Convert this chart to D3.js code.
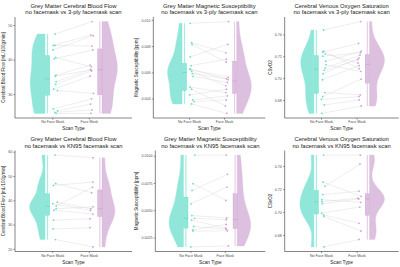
<!DOCTYPE html>
<html lang="en">
<head>
<meta charset="utf-8">
<style>
body { margin: 0; background: #fff; }
svg { display: block; font-family: "Liberation Sans", Arial, sans-serif; }
</style>
</head>
<body>
<script src="https://d3js.org/d3.v7.min.js"></script>
<script>
// paired subjects: index i in the "noMask" array goes with index i in the "mask" array
const groups = ["No Face Mask", "Face Mask"];

// row 1: no facemask vs 3-ply facemask
const cbf3NoMask = [47.4, 44.1, 44.1, 42.8, 40.6, 40.2, 35.5, 35.2, 33.6, 32.8, 31.4, 31.0, 25.7, 25.1, 24.7, 24.4];
const cbf3Mask   = [51.0, 47.1, 43.9, 46.9, 37.9, 42.8, 38.4, 37.0, 37.1, 36.7, 35.2, 30.2, 28.6, 27.1, 25.4, 24.4];
const chi3NoMask = [0.00974, 0.00826, 0.00813, 0.00718, 0.00651, 0.00626, 0.00621, 0.00608, 0.00590, 0.00569, 0.00487, 0.00472, 0.00428, 0.00390, 0.00377, 0.00359];
const chi3Mask   = [0.00987, 0.00749, 0.00679, 0.00813, 0.00700, 0.00544, 0.00562, 0.00497, 0.00551, 0.00523, 0.00446, 0.00344, 0.00472, 0.00420, 0.00390, 0.00287];
const svo3NoMask = [0.7440, 0.7246, 0.7237, 0.7222, 0.7200, 0.7154, 0.7123, 0.7092, 0.7071, 0.7040, 0.6985, 0.6868, 0.6831, 0.6806, 0.6754, 0.6677];
const svo3Mask   = [0.7517, 0.7086, 0.7317, 0.7138, 0.7231, 0.7246, 0.7062, 0.7210, 0.7169, 0.7185, 0.7114, 0.6846, 0.6990, 0.6831, 0.6800, 0.6745];

// row 2: no facemask vs KN95 facemask
const cbfKnNoMask = [58.6, 46.9, 46.1, 39.2, 38.6, 37.6, 36.5, 35.9, 31.8, 28.2, 23.8];
const cbfKnMask   = [57.5, 43.1, 47.5, 36.5, 35.8, 45.4, 37.3, 34.3, 32.4, 28.7, 20.8];
const chiKnNoMask = [0.01006, 0.00744, 0.00682, 0.00559, 0.00451, 0.00426, 0.00410, 0.00352, 0.00321, 0.00309, 0.00164];
const chiKnMask   = [0.01006, 0.00590, 0.00830, 0.00713, 0.00430, 0.00414, 0.00336, 0.00327, 0.00370, 0.00312, 0.00173];
const svoKnNoMask = [0.7494, 0.7259, 0.7224, 0.7151, 0.7107, 0.7090, 0.7072, 0.6990, 0.6975, 0.6961, 0.6697];
const svoKnMask   = [0.7494, 0.7136, 0.7415, 0.7180, 0.7084, 0.7120, 0.7113, 0.7043, 0.6902, 0.6835, 0.6762];

// y tick labels
const cbf3Ticks  = ["30", "40", "50"];
const chi3Ticks  = ["0.004", "0.006", "0.008", "0.010"];
const svoTicks   = ["0.68", "0.70", "0.72", "0.74"];
const cbfKnTicks = ["20", "30", "40", "50", "60"];
const chiKnTicks = ["0.0025", "0.0050", "0.0075", "0.0100"];

const titles = ["Grey Matter Cerebral Blood Flow", "Grey Matter Magnetic Susceptibility", "Cerebral Venous Oxygen Saturation"];
const subtitles = ["no facemask vs 3-ply facemask scan", "no facemask vs KN95 facemask scan"];
const yTitles = ["Cerebral Blood Flow [mL/100g/min]", "Magnetic Susceptibility [ppm]", "CSvO2"];

const panels = [
  {row: 0, col: 0, a: cbf3NoMask,  b: cbf3Mask,  ticks: cbf3Ticks},
  {row: 0, col: 1, a: chi3NoMask,  b: chi3Mask,  ticks: chi3Ticks},
  {row: 0, col: 2, a: svo3NoMask,  b: svo3Mask,  ticks: svoTicks},
  {row: 1, col: 0, a: cbfKnNoMask, b: cbfKnMask, ticks: cbfKnTicks},
  {row: 1, col: 1, a: chiKnNoMask, b: chiKnMask, ticks: chiKnTicks},
  {row: 1, col: 2, a: svoKnNoMask, b: svoKnMask, ticks: svoTicks}
];

const W = 400, H = 267;
const pw = W / 3, ph = H / 2;
const teal = {fill: "#90e7d9", box: "#a6ede2", line: "#52d6c1", pt: "#4fd5bf"};
const plum = {fill: "#ddbfdf", box: "#e6cfe7", line: "#c99acb", pt: "#c68fc8"};

const svg = d3.select("body").append("svg")
  .attr("width", W).attr("height", H);

// small deterministic jitter
let seed = 7;
function jit() { seed = (seed * 9301 + 49297) % 233280; return seed / 233280 - 0.5; }

// gaussian kde with R's bw.nrd0
function kde(vals) {
  const s = vals.slice().sort(d3.ascending);
  const n = s.length;
  const iqr = d3.quantileSorted(s, 0.75) - d3.quantileSorted(s, 0.25);
  const bw = 0.9 * Math.min(d3.deviation(s), iqr / 1.34) * Math.pow(n, -0.2);
  const lo = s[0], hi = s[n - 1];
  return d3.range(200).map(i => {
    const y = lo + (hi - lo) * i / 199;
    const d = d3.mean(s, v => Math.exp(-0.5 * ((y - v) / bw) ** 2)) / (bw * Math.sqrt(2 * Math.PI));
    return [y, d];
  });
}

panels.forEach(p => {
  const g = svg.append("g")
    .attr("transform", "translate(" + (p.col * pw) + "," + (p.row * ph) + ")");

  // measure tick label width to place the y axis
  const tmp = g.append("text").attr("font-size", 3.6).text(p.ticks[p.ticks.length - 1]);
  const tw = tmp.node().getComputedTextLength();
  tmp.remove();

  const left = 8 + tw + 3, right = 132, top = 17, bottom = 118;

  const all = p.a.concat(p.b);
  const [mn, mx] = d3.extent(all);
  const pad = (mx - mn) * 0.05;
  const y = d3.scaleLinear().domain([mn - pad, mx + pad]).range([bottom, top]);
  const x = d3.scaleLinear().domain([-0.02, 3.18]).range([left, right]);

  const dA = kde(p.a), dB = kde(p.b);
  const maxD = d3.max(dA.concat(dB), d => d[1]);
  const halfW = 0.42;

  // violins (flat side toward the points)
  const edgeA = 1 - 0.2, edgeB = 2 + 0.36;
  g.append("path").datum(dA)
    .attr("fill", teal.fill).attr("stroke", teal.fill).attr("stroke-width", 0.4)
    .attr("d", d3.area()
      .y(d => y(d[0]))
      .x0(x(edgeA))
      .x1(d => x(edgeA - halfW * d[1] / maxD)));
  g.append("path").datum(dB)
    .attr("fill", plum.fill).attr("stroke", plum.fill).attr("stroke-width", 0.4)
    .attr("d", d3.area()
      .y(d => y(d[0]))
      .x0(x(edgeB))
      .x1(d => x(edgeB + halfW * d[1] / maxD)));

  // boxplots
  [[p.a, 1 - 0.13, teal], [p.b, 2 + 0.3, plum]].forEach(([vals, cx, c]) => {
    const s = vals.slice().sort(d3.ascending);
    const q1 = d3.quantileSorted(s, 0.25), md = d3.quantileSorted(s, 0.5), q3 = d3.quantileSorted(s, 0.75);
    const bw = 0.12;
    g.append("line")
      .attr("x1", x(cx)).attr("x2", x(cx))
      .attr("y1", y(s[0])).attr("y2", y(s[s.length - 1]))
      .attr("stroke", c.box).attr("stroke-width", 1.2);
    g.append("rect")
      .attr("x", x(cx - bw / 2)).attr("width", x(cx + bw / 2) - x(cx - bw / 2))
      .attr("y", y(q3)).attr("height", y(q1) - y(q3))
      .attr("fill", c.fill).attr("stroke", c.line).attr("stroke-width", 0.3);
    g.append("line")
      .attr("x1", x(cx - bw / 2)).attr("x2", x(cx + bw / 2))
      .attr("y1", y(md)).attr("y2", y(md))
      .attr("stroke", c.line).attr("stroke-width", 0.6);
  });

  // paired points and connecting lines
  const pos = p.a.map((v, i) => ({
    xa: 1 + 0.08 + jit() * 0.14, ya: v,
    xb: 2 + 0.08 + jit() * 0.1, yb: p.b[i]
  }));
  g.selectAll(".pair").data(pos).enter().append("line")
    .attr("x1", d => x(d.xa)).attr("y1", d => y(d.ya))
    .attr("x2", d => x(d.xb)).attr("y2", d => y(d.yb))
    .attr("stroke", "#d4d4d4").attr("stroke-width", 0.4);
  g.selectAll(".pa").data(pos).enter().append("circle")
    .attr("cx", d => x(d.xa)).attr("cy", d => y(d.ya)).attr("r", 0.9)
    .attr("fill", teal.pt).attr("opacity", 0.8);
  g.selectAll(".pb").data(pos).enter().append("circle")
    .attr("cx", d => x(d.xb)).attr("cy", d => y(d.yb)).attr("r", 0.9)
    .attr("fill", plum.pt).attr("opacity", 0.8);

  // axes
  const yAxis = g.append("g").attr("transform", "translate(" + left + ",0)")
    .call(d3.axisLeft(y)
      .tickValues(p.ticks.map(Number))
      .tickFormat((d, i) => p.ticks[i])
      .tickSize(1.6).tickSizeOuter(0).tickPadding(1.2));
  const xAxis = g.append("g").attr("transform", "translate(0," + bottom + ")")
    .call(d3.axisBottom(x)
      .tickValues([1, 2])
      .tickFormat((d, i) => groups[i])
      .tickSize(1.6).tickSizeOuter(0).tickPadding(1.2));
  [yAxis, xAxis].forEach(a => {
    a.select(".domain").attr("stroke", "#333").attr("stroke-width", 0.6);
    a.selectAll(".tick line").attr("stroke", "#333").attr("stroke-width", 0.5);
    a.selectAll(".tick text").attr("font-size", 3.6).attr("fill", "#4d4d4d")
      .attr("font-family", "Liberation Sans, Arial, sans-serif");
  });
  // shift the x range so the axis reaches the plot edges
  xAxis.select(".domain").attr("d", "M" + left + ",0H" + right);
  yAxis.select(".domain").attr("d", "M0," + bottom + "V" + top);

  // titles
  const cx = (left + right) / 2;
  g.append("text").attr("x", cx).attr("y", 7.6).attr("text-anchor", "middle")
    .attr("font-size", 5.9).attr("fill", "#1a1a1a").text(titles[p.col]);
  g.append("text").attr("x", cx).attr("y", 14.4).attr("text-anchor", "middle")
    .attr("font-size", 5.9).attr("fill", "#1a1a1a").text(subtitles[p.row]);
  g.append("text").attr("x", cx).attr("y", 130).attr("text-anchor", "middle")
    .attr("font-size", 4.8).attr("fill", "#1a1a1a").text("Scan Type");
  g.append("text")
    .attr("transform", "translate(5," + ((top + bottom) / 2) + ") rotate(-90)")
    .attr("text-anchor", "middle")
    .attr("font-size", 4.5).attr("fill", "#1a1a1a").text(yTitles[p.col]);
});
</script>
</body>
</html>
